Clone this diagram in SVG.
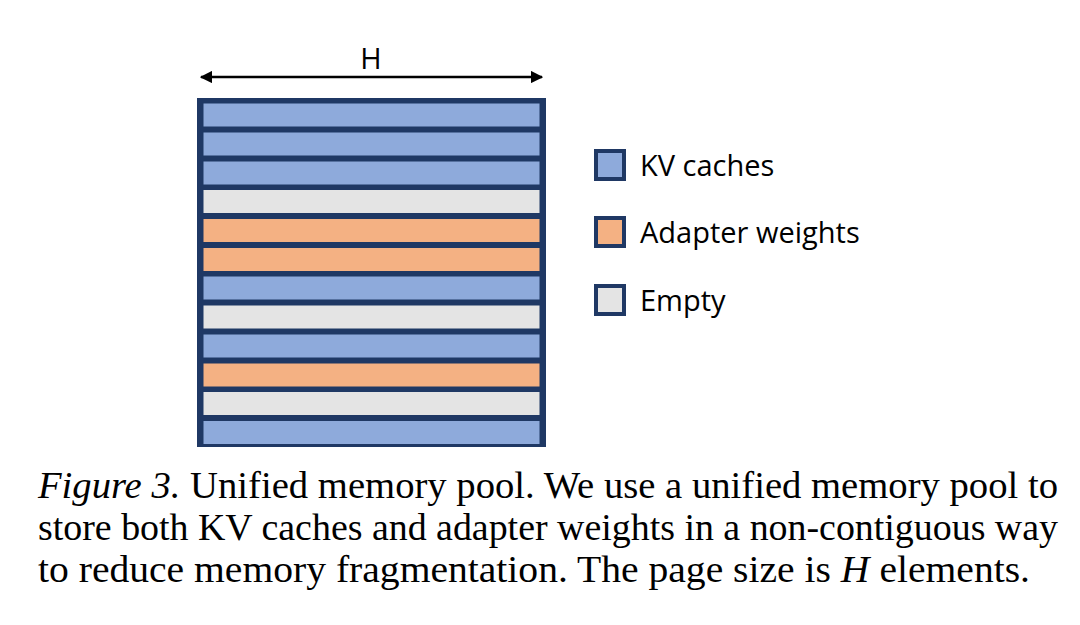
<svg xmlns="http://www.w3.org/2000/svg" width="1080" height="625" viewBox="0 0 1080 625">
<style>
.kv{fill:#8eaadb}.ad{fill:#f4b183}.em{fill:#e4e4e4}
.row{stroke:#1f3864;stroke-width:1}
.lg{stroke:#1f3864;stroke-width:4}
.t{font-family:"Open Sans","Liberation Sans",sans-serif;font-size:29px;fill:#000}
.c{font-family:"Liberation Serif",serif;font-size:37px;fill:#000}
</style>
<defs><marker id="ah" viewBox="0 0 10 10" refX="9" refY="5" markerWidth="5" markerHeight="5" orient="auto-start-reverse"><path d="M0,0L10,5L0,10z" fill="#000"/></marker></defs>
<g id="connectors"><line x1="201" y1="77" x2="542" y2="77" stroke="#000" stroke-width="2.5" marker-start="url(#ah)" marker-end="url(#ah)"/></g>
<text class="t" x="371" y="69" text-anchor="middle">H</text>
<g id="pool">
<rect x="197" y="98" width="349" height="349" fill="#1f3864"/>
<rect class="row kv" x="203" y="103" width="337" height="24"/>
<rect class="row kv" x="203" y="132" width="337" height="24"/>
<rect class="row kv" x="203" y="161" width="337" height="24"/>
<rect class="row em" x="203" y="189.5" width="337" height="24"/>
<rect class="row ad" x="203" y="218.5" width="337" height="24"/>
<rect class="row ad" x="203" y="247.5" width="337" height="24"/>
<rect class="row kv" x="203" y="276" width="337" height="24"/>
<rect class="row em" x="203" y="305" width="337" height="24"/>
<rect class="row kv" x="203" y="334" width="337" height="24"/>
<rect class="row ad" x="203" y="363" width="337" height="24"/>
<rect class="row em" x="203" y="391.5" width="337" height="24"/>
<rect class="row kv" x="203" y="420.5" width="337" height="24"/>
</g>
<g id="legend-kv"><rect class="lg kv" x="596" y="151" width="28" height="28"/><text class="t" x="640" y="176">KV caches</text></g>
<g id="legend-ad"><rect class="lg ad" x="596" y="218" width="28" height="28"/><text class="t" x="640" y="243">Adapter weights</text></g>
<g id="legend-em"><rect class="lg em" x="596" y="286" width="28" height="28"/><text class="t" x="640" y="311">Empty</text></g>
<g id="caption">
<text class="c" x="38" y="498" textLength="1020" lengthAdjust="spacingAndGlyphs"><tspan font-style="italic">Figure 3.</tspan> Unified memory pool. We use a unified memory pool to</text>
<text class="c" x="38" y="540" textLength="1020" lengthAdjust="spacingAndGlyphs">store both KV caches and adapter weights in a non-contiguous way</text>
<text class="c" x="38" y="582" textLength="992" lengthAdjust="spacingAndGlyphs">to reduce memory fragmentation. The page size is <tspan font-style="italic">H</tspan> elements.</text>
</g>
</svg>
